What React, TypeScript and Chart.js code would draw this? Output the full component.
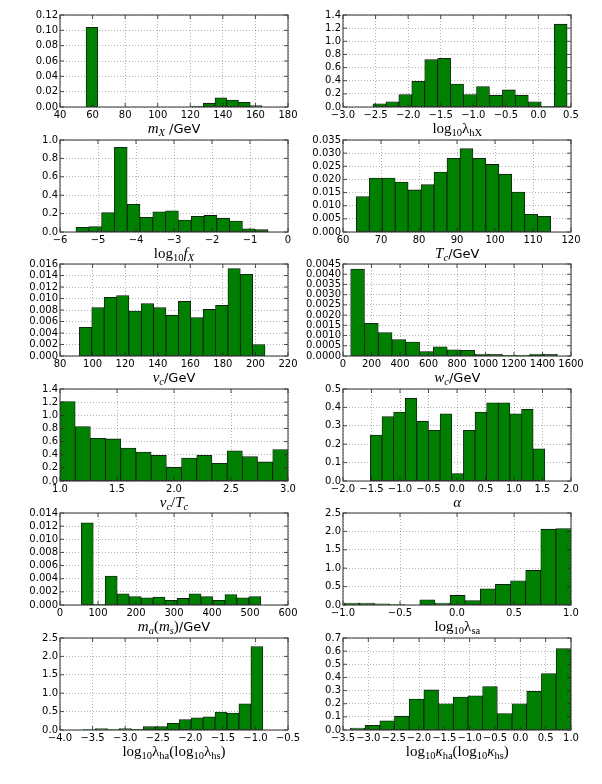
import React, { useEffect, useRef } from "react";
import { Chart, registerables } from "chart.js";
Chart.register(...registerables);

// ---------- data (histogram bin start, bin width, bin heights, axis ticks) ----------
const mxBinStart = 56;
const mxBinWidth = 7.2;
const mxValues = [0.104, 0, 0, 0, 0, 0, 0, 0, 0, 0.001, 0.005, 0.012, 0.009, 0.006, 0.002];
const mxXTicks = [40, 60, 80, 100, 120, 140, 160, 180];
const mxYTicks = [0, 0.02, 0.04, 0.06, 0.08, 0.1, 0.12];

const lhxBinStart = -2.54;
const lhxBinWidth = 0.1987;
const lhxValues = [0.05, 0.08, 0.19, 0.39, 0.72, 0.74, 0.35, 0.19, 0.31, 0.18, 0.26, 0.18, 0.08, 0.01, 1.26];
const lhxXTicks = [-3.0, -2.5, -2.0, -1.5, -1.0, -0.5, 0.0, 0.5];
const lhxYTicks = [0, 0.2, 0.4, 0.6, 0.8, 1.0, 1.2, 1.4];

const fxBinStart = -5.58;
const fxBinWidth = 0.337;
const fxValues = [0.05, 0.06, 0.21, 0.92, 0.3, 0.16, 0.22, 0.23, 0.13, 0.17, 0.18, 0.15, 0.12, 0.035, 0.025];
const fxXTicks = [-6, -5, -4, -3, -2, -1, 0];
const fxYTicks = [0, 0.2, 0.4, 0.6, 0.8, 1.0];

const tcBinStart = 63.5;
const tcBinWidth = 3.41;
const tcValues = [0.0135, 0.0205, 0.0205, 0.019, 0.016, 0.018, 0.0228, 0.028, 0.0317, 0.028, 0.0257, 0.022, 0.0152, 0.0067, 0.006];
const tcXTicks = [60, 70, 80, 90, 100, 110, 120];
const tcYTicks = [0, 0.005, 0.01, 0.015, 0.02, 0.025, 0.03, 0.035];

const vcBinStart = 91.9;
const vcBinWidth = 7.6;
const vcValues = [0.005, 0.0084, 0.0102, 0.0105, 0.0078, 0.0091, 0.0084, 0.0071, 0.0095, 0.0067, 0.0081, 0.0088, 0.0152, 0.0142, 0.002];
const vcXTicks = [80, 100, 120, 140, 160, 180, 200, 220];
const vcYTicks = [0, 0.002, 0.004, 0.006, 0.008, 0.01, 0.012, 0.014, 0.016];

const wcBinStart = 54;
const wcBinWidth = 96.7;
const wcValues = [0.00425, 0.0016, 0.00115, 0.0008, 0.00068, 0.00022, 0.00045, 0.0003, 0.00028, 0.0001, 0.00008, 0.00003, 0.00003, 0.0001, 0.00008];
const wcXTicks = [0, 200, 400, 600, 800, 1000, 1200, 1400, 1600];
const wcYTicks = [0, 0.0005, 0.001, 0.0015, 0.002, 0.0025, 0.003, 0.0035, 0.004, 0.0045];

const vtBinStart = 1.0;
const vtBinWidth = 0.1333;
const vtValues = [1.21, 0.83, 0.65, 0.64, 0.5, 0.44, 0.39, 0.21, 0.35, 0.39, 0.27, 0.46, 0.37, 0.29, 0.48];
const vtXTicks = [1.0, 1.5, 2.0, 2.5, 3.0];
const vtYTicks = [0, 0.2, 0.4, 0.6, 0.8, 1.0, 1.2, 1.4];

const alBinStart = -1.52;
const alBinWidth = 0.204;
const alValues = [0.25, 0.35, 0.375, 0.45, 0.325, 0.275, 0.365, 0.04, 0.275, 0.375, 0.425, 0.425, 0.365, 0.39, 0.175];
const alXTicks = [-2.0, -1.5, -1.0, -0.5, 0.0, 0.5, 1.0, 1.5, 2.0];
const alYTicks = [0, 0.1, 0.2, 0.3, 0.4, 0.5];

const maBinStart = 56;
const maBinWidth = 31.5;
const maValues = [0.0125, 0.0001, 0.0044, 0.0017, 0.0013, 0.0011, 0.0012, 0.0007, 0.001, 0.0017, 0.0013, 0.0007, 0.0016, 0.0011, 0.0013];
const maXTicks = [0, 100, 200, 300, 400, 500, 600];
const maYTicks = [0, 0.002, 0.004, 0.006, 0.008, 0.01, 0.012, 0.014];

const lsaBinStart = -0.99;
const lsaBinWidth = 0.1327;
const lsaValues = [0.05, 0.05, 0.03, 0.01, 0, 0.14, 0.05, 0.26, 0.12, 0.44, 0.56, 0.66, 0.94, 2.06, 2.08];
const lsaXTicks = [-1.0, -0.5, 0.0, 0.5, 1.0];
const lsaYTicks = [0, 0.5, 1.0, 1.5, 2.0, 2.5];

const lhaBinStart = -3.64;
const lhaBinWidth = 0.1836;
const lhaValues = [0.01, 0.04, 0.01, 0.04, 0.02, 0.09, 0.09, 0.18, 0.28, 0.33, 0.36, 0.49, 0.46, 0.71, 2.27];
const lhaXTicks = [-4.0, -3.5, -3.0, -2.5, -2.0, -1.5, -1.0, -0.5];
const lhaYTicks = [0, 0.5, 1.0, 1.5, 2.0, 2.5];

const khaBinStart = -3.354;
const khaBinWidth = 0.29;
const khaValues = [0.015, 0.035, 0.07, 0.105, 0.235, 0.305, 0.2, 0.25, 0.26, 0.33, 0.125, 0.2, 0.295, 0.43, 0.62];
const khaXTicks = [-3.5, -3.0, -2.5, -2.0, -1.5, -1.0, -0.5, 0.0, 0.5, 1.0];
const khaYTicks = [0, 0.1, 0.2, 0.3, 0.4, 0.5, 0.6, 0.7];

// ---------- layout ----------
const ROW_TOPS = [15, 140, 264, 389, 513, 638];
const COL_LEFTS = [60, 343.3];
const PW = 228;
const PH = 92;
const YAXIS_W = 60;
const XAXIS_H = 18;
const PAD_TOP = 8;
const PAD_RIGHT = 16;

const subStyle: React.CSSProperties = { fontSize: "70%", verticalAlign: "-0.3em", lineHeight: 0 };
const Sub = ({ children }: { children: React.ReactNode }) => <sub style={subStyle}>{children}</sub>;
const It = ({ children }: { children: React.ReactNode }) => <i>{children}</i>;
const GeV = ({ text }: { text: string }) => (
  <span style={{ fontFamily: '"DejaVu Sans", sans-serif', fontSize: 13 }}>{text}</span>
);

type Panel = {
  start: number;
  width: number;
  values: number[];
  xTicks: number[];
  yTicks: number[];
  xDec: number;
  yDec: number;
  title: React.ReactNode;
};

const panels: Panel[] = [
  { start: mxBinStart, width: mxBinWidth, values: mxValues, xTicks: mxXTicks, yTicks: mxYTicks, xDec: 0, yDec: 2,
    title: <><It>m</It><Sub><It>X</It></Sub><GeV text=" /GeV" /></> },
  { start: lhxBinStart, width: lhxBinWidth, values: lhxValues, xTicks: lhxXTicks, yTicks: lhxYTicks, xDec: 1, yDec: 1,
    title: <>log<Sub>10</Sub>λ<Sub>hX</Sub></> },
  { start: fxBinStart, width: fxBinWidth, values: fxValues, xTicks: fxXTicks, yTicks: fxYTicks, xDec: 0, yDec: 1,
    title: <>log<Sub>10</Sub><It>f</It><Sub><It>X</It></Sub></> },
  { start: tcBinStart, width: tcBinWidth, values: tcValues, xTicks: tcXTicks, yTicks: tcYTicks, xDec: 0, yDec: 3,
    title: <><It>T</It><Sub><It>c</It></Sub><GeV text="/GeV" /></> },
  { start: vcBinStart, width: vcBinWidth, values: vcValues, xTicks: vcXTicks, yTicks: vcYTicks, xDec: 0, yDec: 3,
    title: <><It>v</It><Sub><It>c</It></Sub><GeV text="/GeV" /></> },
  { start: wcBinStart, width: wcBinWidth, values: wcValues, xTicks: wcXTicks, yTicks: wcYTicks, xDec: 0, yDec: 4,
    title: <><It>w</It><Sub><It>c</It></Sub><GeV text="/GeV" /></> },
  { start: vtBinStart, width: vtBinWidth, values: vtValues, xTicks: vtXTicks, yTicks: vtYTicks, xDec: 1, yDec: 1,
    title: <><It>v</It><Sub><It>c</It></Sub>/<It>T</It><Sub><It>c</It></Sub></> },
  { start: alBinStart, width: alBinWidth, values: alValues, xTicks: alXTicks, yTicks: alYTicks, xDec: 1, yDec: 1,
    title: <><It>α</It></> },
  { start: maBinStart, width: maBinWidth, values: maValues, xTicks: maXTicks, yTicks: maYTicks, xDec: 0, yDec: 3,
    title: <><It>m</It><Sub><It>a</It></Sub>(<It>m</It><Sub><It>s</It></Sub>)<GeV text="/GeV" /></> },
  { start: lsaBinStart, width: lsaBinWidth, values: lsaValues, xTicks: lsaXTicks, yTicks: lsaYTicks, xDec: 1, yDec: 1,
    title: <>log<Sub>10</Sub>λ<Sub>sa</Sub></> },
  { start: lhaBinStart, width: lhaBinWidth, values: lhaValues, xTicks: lhaXTicks, yTicks: lhaYTicks, xDec: 1, yDec: 1,
    title: <>log<Sub>10</Sub>λ<Sub>ha</Sub>(log<Sub>10</Sub>λ<Sub>hs</Sub>)</> },
  { start: khaBinStart, width: khaBinWidth, values: khaValues, xTicks: khaXTicks, yTicks: khaYTicks, xDec: 1, yDec: 1,
    title: <>log<Sub>10</Sub><It>κ</It><Sub>ha</Sub>(log<Sub>10</Sub><It>κ</It><Sub>hs</Sub>)</> },
];

function fmt(v: number, dec: number) {
  const x = Math.abs(v) < 1e-12 ? 0 : v;
  return x.toFixed(dec).replace("-", "\u2212");
}

const framePlugin = {
  id: "frame",
  afterDraw(chart: any) {
    const { ctx, chartArea: a } = chart;
    const xs = chart.scales.x;
    const ys = chart.scales.y;
    ctx.save();
    ctx.strokeStyle = "#222";
    ctx.lineWidth = 0.8;
    ctx.beginPath();
    xs.ticks.forEach((_: any, i: number) => {
      const px = xs.getPixelForTick(i);
      ctx.moveTo(px, a.bottom);
      ctx.lineTo(px, a.bottom - 4);
      ctx.moveTo(px, a.top);
      ctx.lineTo(px, a.top + 4);
    });
    ys.ticks.forEach((_: any, i: number) => {
      const py = ys.getPixelForTick(i);
      ctx.moveTo(a.left, py);
      ctx.lineTo(a.left + 4, py);
      ctx.moveTo(a.right, py);
      ctx.lineTo(a.right - 4, py);
    });
    ctx.stroke();
    ctx.strokeStyle = "#444";
    ctx.lineWidth = 1.1;
    ctx.strokeRect(a.left, a.top, a.right - a.left, a.bottom - a.top);
    ctx.restore();
  },
};

function HistPanel({ p, left, top }: { p: Panel; left: number; top: number }) {
  const ref = useRef<HTMLCanvasElement>(null);
  useEffect(() => {
    const data = p.values.map((v, i) => ({ x: p.start + p.width * (i + 0.5), y: v }));
    const tickFont = { family: '"DejaVu Sans", sans-serif', size: 10 };
    const grid = { color: "rgba(0,0,0,0.5)", lineWidth: 0.6, drawTicks: false, offset: false };
    const chart = new Chart(ref.current as HTMLCanvasElement, {
      type: "bar",
      data: {
        datasets: [
          {
            data: data as any,
            backgroundColor: "#008000",
            borderColor: "#111",
            borderWidth: 0.8,
            borderSkipped: false,
            barPercentage: 1,
            categoryPercentage: 1,
          } as any,
        ],
      },
      options: {
        animation: false,
        responsive: true,
        maintainAspectRatio: false,
        layout: { padding: { top: PAD_TOP, right: PAD_RIGHT, left: 0, bottom: 0 } },
        plugins: { legend: { display: false }, tooltip: { enabled: false } },
        scales: {
          x: {
            type: "linear",
            offset: false,
            min: p.xTicks[0],
            max: p.xTicks[p.xTicks.length - 1],
            afterBuildTicks: (s: any) => {
              s.ticks = p.xTicks.map((v) => ({ value: v }));
            },
            afterFit: (s: any) => {
              s.height = XAXIS_H;
            },
            grid,
            border: { display: false, dash: [1, 2] },
            ticks: {
              autoSkip: false,
              maxRotation: 0,
              minRotation: 0,
              padding: 2,
              color: "#000",
              font: tickFont,
              callback: (v: any) => fmt(Number(v), p.xDec),
            },
          },
          y: {
            type: "linear",
            min: p.yTicks[0],
            max: p.yTicks[p.yTicks.length - 1],
            afterBuildTicks: (s: any) => {
              s.ticks = p.yTicks.map((v) => ({ value: v }));
            },
            afterFit: (s: any) => {
              s.width = YAXIS_W;
            },
            grid,
            border: { display: false, dash: [1, 2] },
            ticks: {
              autoSkip: false,
              padding: 2,
              color: "#000",
              font: tickFont,
              callback: (v: any) => fmt(Number(v), p.yDec),
            },
          },
        },
      } as any,
      plugins: [framePlugin],
    });
    return () => chart.destroy();
  }, [p]);

  return (
    <>
      <div
        style={{
          position: "absolute",
          left: left - YAXIS_W,
          top: top - PAD_TOP,
          width: PW + YAXIS_W + PAD_RIGHT,
          height: PH + PAD_TOP + XAXIS_H,
        }}
      >
        <canvas ref={ref} />
      </div>
      <div
        style={{
          position: "absolute",
          left,
          top: top + PH + 13,
          width: PW,
          textAlign: "center",
          fontFamily: '"Liberation Serif", "DejaVu Serif", serif',
          fontSize: 15,
          lineHeight: "16px",
          color: "#000",
          whiteSpace: "nowrap",
        }}
      >
        {p.title}
      </div>
    </>
  );
}

export default function App() {
  return (
    <div style={{ position: "absolute", left: 0, top: 0, width: 602, height: 784, background: "#fff" }}>
      {panels.map((p, i) => (
        <HistPanel key={i} p={p} left={COL_LEFTS[i % 2]} top={ROW_TOPS[Math.floor(i / 2)]} />
      ))}
    </div>
  );
}
